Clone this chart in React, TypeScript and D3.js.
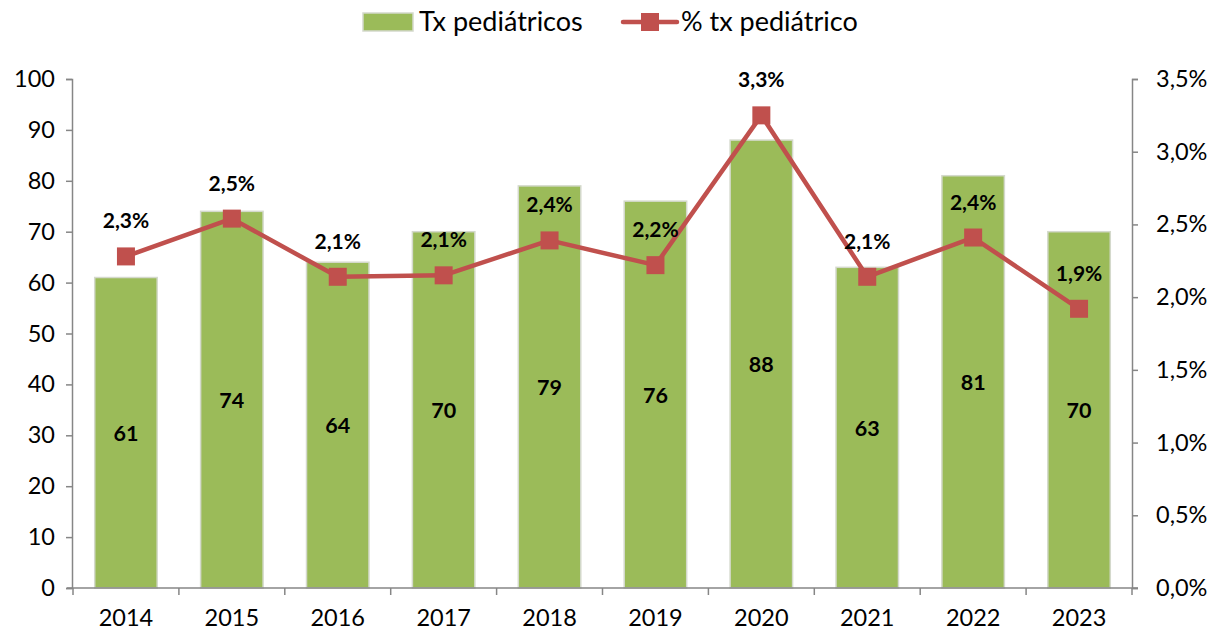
import { useEffect, useRef } from 'react';
import * as d3 from 'd3';

// Data
const years = ['2014', '2015', '2016', '2017', '2018', '2019', '2020', '2021', '2022', '2023'];
const txPediatricos = [61, 74, 64, 70, 79, 76, 88, 63, 81, 70];
const pctPediatrico = [2.28, 2.54, 2.14, 2.15, 2.39, 2.22, 3.25, 2.14, 2.41, 1.92];
const pctLabels = ['2,3%', '2,5%', '2,1%', '2,1%', '2,4%', '2,2%', '3,3%', '2,1%', '2,4%', '1,9%'];
const leftTicks = [0, 10, 20, 30, 40, 50, 60, 70, 80, 90, 100];
const rightTicks = [0, 0.5, 1, 1.5, 2, 2.5, 3, 3.5];

const COLORS = {
    bar: '#9bbb59',
    barStroke: '#d4d9cc',
    line: '#c0504d',
    axis: '#868686',
    text: '#000000',
};

const FONT = 'Lato, "Open Sans", sans-serif';

export default function App() {
    const svgRef = useRef<SVGSVGElement>(null);
    const width = 1213;
    const height = 632;

    useEffect(() => {
        if (!svgRef.current) return;
        const svg = d3.select(svgRef.current);
        svg.selectAll('*').remove();

        const left = 73, right = 1132, top = 79, bottom = 588;

        const x = d3.scaleBand<string>().domain(years).range([left, right]).paddingInner(0.41).paddingOuter(0.205);
        const xb = d3.scaleBand<string>().domain(years).range([left, right]);
        const y = d3.scaleLinear().domain([0, 100]).range([bottom, top]);
        const y2 = d3.scaleLinear().domain([0, 3.5]).range([bottom, top]);

        // Bars
        svg.append('g')
            .selectAll('rect')
            .data(txPediatricos)
            .join('rect')
            .attr('x', (_, i) => x(years[i])!)
            .attr('y', d => y(d))
            .attr('width', x.bandwidth())
            .attr('height', d => bottom - y(d))
            .attr('fill', COLORS.bar)
            .attr('stroke', COLORS.barStroke)
            .attr('stroke-width', 1.5);

        // Left axis
        const la = svg.append('g').attr('transform', `translate(${left - 1},0)`)
            .call(d3.axisLeft(y).tickValues(leftTicks).tickSize(6).tickPadding(11).tickFormat(d => `${d}`));
        la.select('.domain').attr('stroke', COLORS.axis).attr('stroke-width', 1.5);
        la.selectAll('line').attr('stroke', COLORS.axis).attr('stroke-width', 1.5);
        la.selectAll('text').style('font-family', FONT).style('font-size', '23.5px').style('fill', COLORS.text);

        // Right axis
        const ra = svg.append('g').attr('transform', `translate(${right},0)`)
            .call(d3.axisRight(y2).tickValues(rightTicks).tickSize(6).tickPadding(18)
                .tickFormat(d => `${(+d).toFixed(1).replace('.', ',')}%`));
        ra.select('.domain').attr('stroke', COLORS.axis).attr('stroke-width', 1.5);
        ra.selectAll('line').attr('stroke', COLORS.axis).attr('stroke-width', 1.5);
        ra.selectAll('text').style('font-family', FONT).style('font-size', '23.5px').style('fill', COLORS.text);

        // Bottom axis
        svg.append('line')
            .attr('x1', left - 6).attr('x2', right + 6)
            .attr('y1', bottom).attr('y2', bottom)
            .attr('stroke', COLORS.axis).attr('stroke-width', 1.5);
        svg.append('g').selectAll('line')
            .data([...years.map(d => xb(d)!), right])
            .join('line')
            .attr('x1', d => d).attr('x2', d => d)
            .attr('y1', bottom).attr('y2', bottom + 7)
            .attr('stroke', COLORS.axis).attr('stroke-width', 1.5);
        svg.append('g').selectAll('text')
            .data(years)
            .join('text')
            .attr('x', d => xb(d)! + xb.bandwidth() / 2)
            .attr('y', 626)
            .attr('text-anchor', 'middle')
            .style('font-family', FONT).style('font-size', '23.5px').style('fill', COLORS.text)
            .text(d => d);

        // Bar value labels
        svg.append('g').selectAll('text')
            .data(txPediatricos)
            .join('text')
            .attr('x', (_, i) => x(years[i])! + x.bandwidth() / 2)
            .attr('y', d => (y(d) + bottom) / 2 + 8)
            .attr('text-anchor', 'middle')
            .style('font-family', FONT).style('font-size', '21.5px').style('font-weight', 'bold')
            .style('fill', COLORS.text)
            .text(d => d);

        // Percentage line
        const cx = (i: number) => xb(years[i])! + xb.bandwidth() / 2;
        const line = d3.line<number>().x((_, i) => cx(i)).y(d => y2(d));
        svg.append('path')
            .datum(pctPediatrico)
            .attr('d', line)
            .attr('fill', 'none')
            .attr('stroke', COLORS.line)
            .attr('stroke-width', 4.5)
            .attr('stroke-linejoin', 'round');

        svg.append('g').selectAll('rect')
            .data(pctPediatrico)
            .join('rect')
            .attr('x', (_, i) => cx(i) - 9)
            .attr('y', d => y2(d) - 9)
            .attr('width', 18).attr('height', 18)
            .attr('fill', COLORS.line);

        svg.append('g').selectAll('text')
            .data(pctPediatrico)
            .join('text')
            .attr('x', (_, i) => cx(i))
            .attr('y', d => y2(d) - 28)
            .attr('text-anchor', 'middle')
            .style('font-family', FONT).style('font-size', '21px').style('font-weight', 'bold')
            .style('fill', COLORS.text)
            .text((_, i) => pctLabels[i]);

        // Legend
        const lg = svg.append('g');
        lg.append('rect')
            .attr('x', 363).attr('y', 13).attr('width', 50).attr('height', 18)
            .attr('fill', COLORS.bar).attr('stroke', COLORS.barStroke).attr('stroke-width', 1.5);
        lg.append('text')
            .attr('x', 419).attr('y', 31)
            .style('font-family', FONT).style('font-size', '27px').style('fill', COLORS.text)
            .text('Tx pediátricos');
        lg.append('line')
            .attr('x1', 623).attr('x2', 677).attr('y1', 22).attr('y2', 22)
            .attr('stroke', COLORS.line).attr('stroke-width', 4.5).attr('stroke-linecap', 'round');
        lg.append('rect')
            .attr('x', 641).attr('y', 13).attr('width', 18).attr('height', 18)
            .attr('fill', COLORS.line);
        lg.append('text')
            .attr('x', 681).attr('y', 31)
            .style('font-family', FONT).style('font-size', '27px').style('fill', COLORS.text)
            .text('% tx pediátrico');
    }, []);

    return (
        <svg ref={svgRef} width={width} height={height}
            style={{ position: 'absolute', left: 0, top: 0, background: '#fff' }} />
    );
}
